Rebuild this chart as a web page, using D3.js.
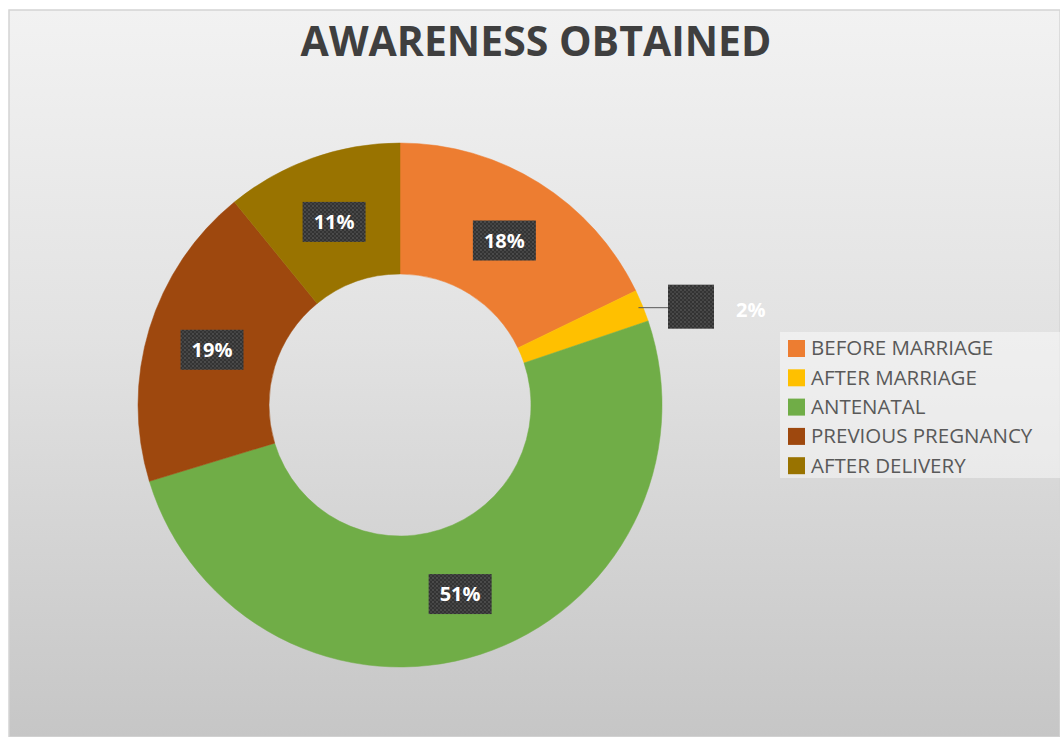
<!DOCTYPE html>
<html>
<head>
<meta charset="utf-8">
<script src="https://cdn.jsdelivr.net/npm/d3@7"></script>
<style>
  html, body { margin: 0; padding: 0; background: #ffffff; }
  svg { display: block; }
</style>
</head>
<body>
<svg id="chart" width="1060" height="737"></svg>
<script>
// Where participants obtained awareness (percent of respondents)
const categories = ["BEFORE MARRIAGE", "AFTER MARRIAGE", "ANTENATAL", "PREVIOUS PREGNANCY", "AFTER DELIVERY"];
const percentages = [18, 2, 51, 19, 11];
const sliceColors = ["#ED7D31", "#FFC000", "#70AD47", "#9E480E", "#997300"];
const chartTitle = "AWARENESS OBTAINED";

const W = 1060, H = 737;
const svg = d3.select("#chart");
const defs = svg.append("defs");

// Chart-area background: soft vertical gray gradient
const bg = defs.append("linearGradient").attr("id", "bgGrad")
  .attr("x1", 0).attr("y1", 0).attr("x2", 0).attr("y2", 1);
bg.append("stop").attr("offset", "0%").attr("stop-color", "#f2f2f2");
bg.append("stop").attr("offset", "45%").attr("stop-color", "#e2e2e2");
bg.append("stop").attr("offset", "100%").attr("stop-color", "#c6c6c6");

// Dotted dark fill used behind data labels
const pat = defs.append("pattern").attr("id", "dots")
  .attr("width", 4).attr("height", 4).attr("patternUnits", "userSpaceOnUse");
pat.append("rect").attr("width", 4).attr("height", 4).attr("fill", "#333333");
pat.append("circle").attr("cx", 1).attr("cy", 1).attr("r", 0.9).attr("fill", "#555555");
pat.append("circle").attr("cx", 3).attr("cy", 3).attr("r", 0.9).attr("fill", "#4a4a4a");

svg.append("rect")
  .attr("x", 9).attr("y", 10).attr("width", W - 9).attr("height", H - 10)
  .attr("fill", "url(#bgGrad)")
  .attr("stroke", "#d4d4d4").attr("stroke-width", 1.5);

// Title
svg.append("text")
  .attr("x", 536).attr("y", 56)
  .attr("text-anchor", "middle")
  .attr("font-family", "'Open Sans', sans-serif")
  .attr("font-weight", 700)
  .attr("font-size", 41)
  .attr("fill", "#3f3f3f")
  .text(chartTitle);

// Donut
const cx = 400, cy = 405;
const outerR = 262, innerR = 131;
const data = categories.map((c, i) => ({ name: c, value: percentages[i], color: sliceColors[i] }));

const pie = d3.pie().value(d => d.value).sort(null);
const arcs = pie(data);
const arc = d3.arc().innerRadius(innerR).outerRadius(outerR);

const g = svg.append("g").attr("transform", `translate(${cx},${cy})`);
g.selectAll("path.slice")
  .data(arcs)
  .join("path")
  .attr("class", "slice")
  .attr("d", arc)
  .attr("fill", d => d.data.color)
  .attr("stroke", d => d.data.color)
  .attr("stroke-width", 0.5);

// Data labels: dotted boxes at the ring centroid
const labelFont = "'Open Sans', sans-serif";
arcs.forEach(d => {
  const txt = d.data.value + "%";
  if (d.data.value >= 5) {
    const [x, y] = arc.centroid(d);
    const bw = 63, bh = 40;
    g.append("rect")
      .attr("x", x - bw / 2).attr("y", y - bh / 2 + 2)
      .attr("width", bw).attr("height", bh)
      .attr("fill", "url(#dots)");
    g.append("text")
      .attr("x", x).attr("y", y + 2)
      .attr("dy", "0.35em")
      .attr("text-anchor", "middle")
      .attr("font-family", labelFont)
      .attr("font-weight", 700)
      .attr("font-size", 20)
      .attr("fill", "#ffffff")
      .text(txt);
  } else {
    // Small slice: leader line out to a callout box
    const mid = (d.startAngle + d.endAngle) / 2;
    const px = Math.sin(mid) * outerR, py = -Math.cos(mid) * outerR;
    const boxX = 268, boxY = py - 21;
    g.append("line")
      .attr("x1", px - 4).attr("y1", py + 2)
      .attr("x2", boxX).attr("y2", py + 2)
      .attr("stroke", "#595959").attr("stroke-width", 1);
    g.append("rect")
      .attr("x", boxX).attr("y", boxY)
      .attr("width", 46).attr("height", 44)
      .attr("fill", "url(#dots)");
    g.append("text")
      .attr("x", boxX + 68).attr("y", py + 4)
      .attr("dy", "0.35em")
      .attr("font-family", labelFont)
      .attr("font-weight", 700)
      .attr("font-size", 20)
      .attr("fill", "#ffffff")
      .text(txt);
  }
});

// Legend
const legX = 780, legY = 332;
svg.append("rect")
  .attr("x", legX).attr("y", legY)
  .attr("width", W - legX).attr("height", 146)
  .attr("fill", "#ffffff").attr("fill-opacity", 0.45);

const rowH = 29.3;
const leg = svg.append("g").attr("transform", `translate(${legX},${legY})`);
data.forEach((d, i) => {
  const yc = 16 + i * rowH;
  leg.append("rect")
    .attr("x", 8).attr("y", yc - 8)
    .attr("width", 17).attr("height", 17)
    .attr("fill", d.color);
  leg.append("text")
    .attr("x", 31).attr("y", yc)
    .attr("dy", "0.36em")
    .attr("font-family", labelFont)
    .attr("font-size", 20.5)
    .attr("fill", "#595959")
    .text(d.name);
});
</script>
</body>
</html>
